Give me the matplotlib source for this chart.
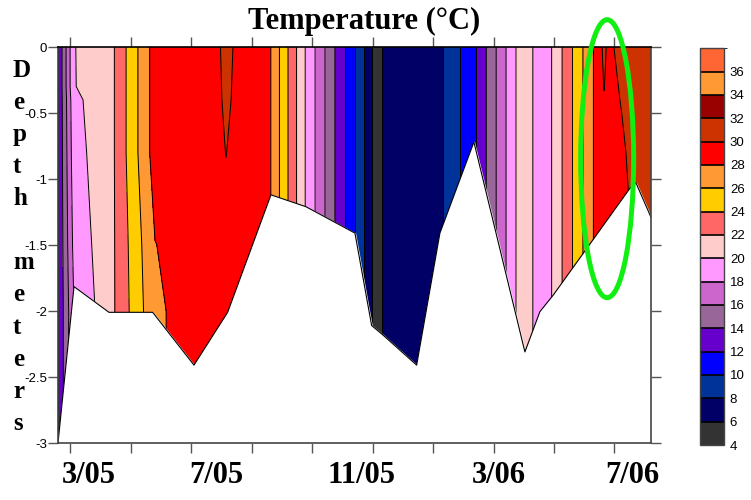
import numpy as np
import matplotlib.pyplot as plt
from matplotlib.colors import ListedColormap, BoundaryNorm
from matplotlib.cm import ScalarMappable
from matplotlib.patches import Ellipse
from matplotlib.transforms import blended_transform_factory

plt.rcParams['font.family'] = ['Liberation Sans', 'DejaVu Sans']

# profile dates, in months from 1 Jan 2005
months = [-0.41, 0.119, 1.376, 2.799, 4.089, 4.783, 5.147, 5.610, 6.603, 7.761,
          9.415, 10.142, 10.440, 12.226, 13.351, 14.906, 15.733, 17.321,
          17.652, 17.784, 18.247, 19.21]

# depth of each value in a profile (m)
depths = [0, -0.3, -0.4, -0.8, -1.5, -2.0, -3.0]

# temperature profiles (degC), surface first
temps = [
    [12.0, 12.0, 12.0, 12.0, 12.0, 12.0, 12.0],
    [19.92, 19.9, 19.5, 19.2, 18.6, 18.0, 18.0],
    [21.6, 21.6, 21.6, 21.6, 21.6, 21.6, 21.6],
    [28.9, 28.9, 28.9, 28.9, 27.95, 27.6, 27.6],
    [29.0, 29.0, 29.0, 29.0, 29.0, 29.0, 29.0],
    [29.4, 29.4, 29.4, 29.4, 29.4, 29.4, 29.4],
    [30.6, 30.4, 30.35, 30.03, 29.5, 29.5, 29.5],
    [29.4, 29.4, 29.4, 29.4, 29.4, 29.4, 29.4],
    [28.2, 28.2, 28.2, 28.2, 28.2, 28.2, 28.2],
    [20.05, 20.05, 20.05, 20.05, 20.05, 20.05, 20.05],
    [9.95, 9.95, 9.95, 9.95, 9.95, 9.95, 9.95],
    [5.0, 5.0, 5.0, 5.0, 5.0, 5.0, 5.0],
    [6.8, 6.8, 6.8, 6.8, 6.8, 6.8, 6.8],
    [7.7, 7.7, 7.7, 7.7, 7.7, 7.7, 7.7],
    [11.5, 11.5, 11.5, 11.5, 11.5, 11.5, 11.5],
    [21.0, 21.0, 21.0, 21.0, 21.0, 21.0, 21.0],
    [18.9, 18.9, 18.9, 18.9, 18.9, 18.9, 18.9],
    [28.1, 28.1, 28.1, 28.1, 28.1, 28.1, 28.1],
    [30.4, 30.05, 29.9, 29.6, 29.4, 29.2, 29.2],
    [29.7, 29.7, 29.7, 29.7, 29.7, 29.7, 29.7],
    [30.4, 30.1, 30.05, 29.87, 29.6, 29.6, 29.6],
    [30.8, 30.8, 30.8, 30.8, 30.8, 30.8, 30.8],
]

# bottom of the water column
bottom_t = [-0.41, 0.119, 1.277, 2.722, 4.089, 5.203, 6.636, 7.794, 9.415, 9.967,
            10.331, 11.456, 12.226, 13.351, 15.038, 15.534, 15.974, 18.515,
            18.713, 19.21]
bottom_z = [-3.0, -1.815, -2.01, -2.01, -2.41, -2.01, -1.12, -1.21, -1.41, -2.11,
            -2.18, -2.41, -1.41, -0.72, -2.31, -2.005, -1.88, -1.07, -1.03, -1.29]

levels = list(range(4, 40, 2))
colors = ['#333333', '#000066', '#003399', '#0000FF', '#6600CC', '#996699',
          '#CC66CC', '#FF99FF', '#FFCCCC', '#FF6666', '#FFCC00', '#FF9933',
          '#FF0000', '#CC3300', '#990000', '#FF9933', '#FF6633']

xtick_pos = [0, 2, 4, 6, 8, 10, 12, 14, 16, 18]
date_labels = ['3/05', '7/05', '11/05', '3/06', '7/06']
date_pos = [0.602, 4.840, 9.646, 14.172, 18.578]
ytick_pos = [0, -0.5, -1, -1.5, -2, -2.5, -3]
ytick_labels = ['0', '-0.5', '-1', '-1.5', '-2', '-2.5', '-3']
ylabel_letters = ['D', 'e', 'p', 't', 'h', '', 'm', 'e', 't', 'e', 'r', 's']

fig = plt.figure(figsize=(7.51, 5.0), dpi=100)
ax = fig.add_axes([58 / 751, 1 - 443 / 500, 593 / 751, 396 / 500])

Z = np.array(temps).T
ax.contourf(months, depths, Z, levels=levels, colors=colors)
ax.contour(months, depths, Z, levels=levels, colors='k', linewidths=0.7)

# blank out everything under the bottom
ax.fill_between(bottom_t, bottom_z, -3.2, color='white', zorder=3)
ax.plot(bottom_t, bottom_z, color='k', lw=0.8, zorder=4)

ax.set_xlim(-0.41, 19.21)
ax.set_ylim(-3, 0)
ax.set_xticks(xtick_pos)
ax.set_yticks(ytick_pos)
ax.set_yticklabels(ytick_labels)
ax.tick_params(axis='x', top=True, bottom=True, direction='out', length=7,
               width=1, color='#555555', labelbottom=False)
ax.tick_params(axis='y', left=True, right=True, direction='out', length=7,
               width=1, color='#555555', labelsize=9.5, pad=1)
for side in ['left', 'right', 'bottom']:
    ax.spines[side].set_color('#444444')
    ax.spines[side].set_linewidth(1.2)
ax.spines['top'].set_color('black')
ax.spines['top'].set_linewidth(1.2)
for s in ax.spines.values():
    s.set_zorder(5)

# date labels: x in data units, y in figure units
trans = blended_transform_factory(ax.transData, fig.transFigure)
for lab, x in zip(date_labels, date_pos):
    ax.text(x, 0.049, lab, transform=trans, ha='center', va='center',
            fontsize=22, fontweight='bold', family='Liberation Serif')

fig.text(364.5 / 751, 1 - 21 / 500, 'Temperature (°C)', ha='center', va='center',
         fontsize=22, fontweight='bold', family='Liberation Serif')

for i, ch in enumerate(ylabel_letters):
    y = 76.7 + i * 32.1
    fig.text(13 / 751, 1 - y / 500, ch, ha='left', va='baseline',
             fontsize=18, fontweight='bold', family='Liberation Serif')

# highlighted area
ax.add_patch(Ellipse((17.76, -0.846), 1.753, 2.106, fill=False, edgecolor='#11EE11',
                     lw=3.6, clip_on=False, zorder=6))

# colour key
cax = fig.add_axes([700 / 751, 1 - 445 / 500, 24.3 / 751, 396.7 / 500])
cmap = ListedColormap(colors)
norm = BoundaryNorm(levels, cmap.N)
cb = fig.colorbar(ScalarMappable(norm=norm, cmap=cmap), cax=cax,
                  ticks=list(range(4, 37, 2)), drawedges=True)
cb.outline.set_edgecolor('#444444')
cb.outline.set_linewidth(1.0)
cb.dividers.set_color('black')
cb.dividers.set_linewidth(1.2)
cb.ax.tick_params(length=0, labelsize=9.5, pad=4)

fig.savefig('out.png', dpi=100)
